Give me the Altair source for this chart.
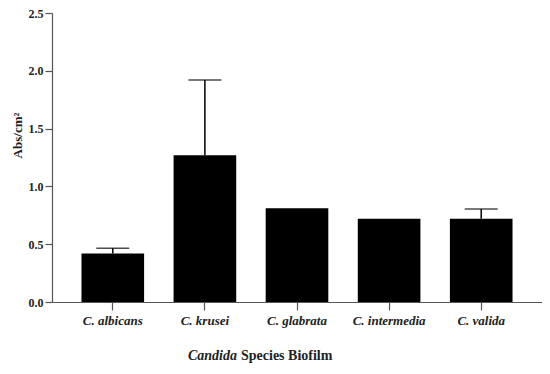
import altair as alt
import pandas as pd

species = ["C. albicans", "C. krusei", "C. glabrata", "C. intermedia", "C. valida"]
means = [0.42, 1.27, 0.81, 0.72, 0.72]
uppers = [0.465, 1.92, 0.81, 0.72, 0.805]
y_ticks = [0.0, 0.5, 1.0, 1.5, 2.0, 2.5]

df = pd.DataFrame({"species": species, "mean": means, "upper": uppers})

FONT = "Liberation Serif"

x = alt.X("species:N", sort=species, title=None,
          scale=alt.Scale(paddingInner=0.32, paddingOuter=0.32),
          axis=alt.Axis(labelAngle=0, labelFont=FONT, labelFontStyle="italic",
                        labelFontWeight="bold", labelFontSize=13, labelColor="#222",
                        tickSize=8, tickColor="#555", domainColor="#555",
                        labelPadding=4))
y = alt.Y("mean:Q", title="Abs/cm²",
          scale=alt.Scale(domain=[0, 2.5], nice=False),
          axis=alt.Axis(values=y_ticks, format=".1f", grid=False,
                        labelFont=FONT, labelFontWeight="bold", labelFontSize=12,
                        labelColor="#222", tickSize=7, tickColor="#555",
                        domainColor="#555", labelPadding=2,
                        titleFont=FONT, titleFontWeight="bold", titleFontSize=13,
                        titleColor="#222", titleX=-35, titleY=122,
                        titleBaseline="middle"))

base = alt.Chart(df)
bars = base.mark_bar(color="black").encode(x=x, y=y)
errbase = base.transform_filter("datum.upper > datum.mean")
err = errbase.mark_rule(color="black", strokeWidth=1.5).encode(
    x=alt.X("species:N", sort=species), y="mean:Q", y2="upper:Q")
caps = errbase.mark_tick(color="black", thickness=1.5, size=33).encode(
    x=alt.X("species:N", sort=species), y="upper:Q")

t1 = alt.Chart(pd.DataFrame({"t": ["Candida"]})).mark_text(
    font=FONT, fontSize=14, fontWeight="bold", fontStyle="italic",
    align="right", baseline="middle", color="#222").encode(
    text="t:N", x=alt.value(185), y=alt.value(343))
t2 = alt.Chart(pd.DataFrame({"t": ["Species Biofilm"]})).mark_text(
    font=FONT, fontSize=14, fontWeight="bold",
    align="left", baseline="middle", color="#222").encode(
    text="t:N", x=alt.value(189), y=alt.value(343))

chart = alt.layer(bars, err, caps, t1, t2).properties(
    width=490, height=289,
    autosize=alt.AutoSizeParams(type="none"),
    padding={"left": 44, "top": 5, "right": 0, "bottom": 64},
).configure_view(stroke=None).configure_axis(domainWidth=1.2, tickWidth=1.2)

chart.save("out.html", embed_options={"renderer": "svg", "actions": False})
